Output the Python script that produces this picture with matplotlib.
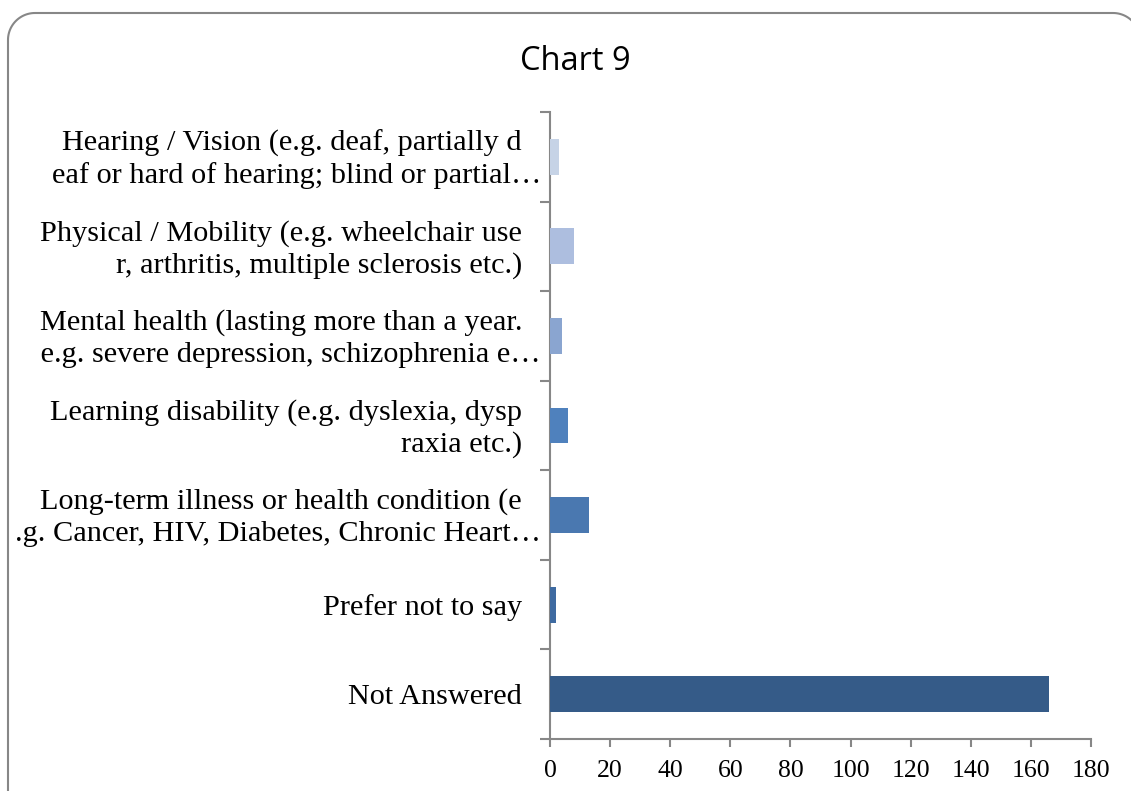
import matplotlib
matplotlib.use("Agg")
import matplotlib.pyplot as plt
import numpy as np
from matplotlib.transforms import offset_copy

categories = [
    "Hearing / Vision (e.g. deaf, partially d\neaf or hard of hearing; blind or partial\u2026",
    "Physical / Mobility (e.g. wheelchair use\nr, arthritis, multiple sclerosis etc.)",
    "Mental health (lasting more than a year.\n e.g. severe depression, schizophrenia e\u2026",
    "Learning disability (e.g. dyslexia, dysp\nraxia etc.)",
    "Long-term illness or health condition (e\n.g. Cancer, HIV, Diabetes, Chronic Heart\u2026",
    "Prefer not to say",
    "Not Answered",
]
values = [3, 8, 4, 6, 13, 2, 166]
colors = ["#c6d3e6", "#adbedf", "#8aa5d0", "#4f81bd", "#4a78b0", "#3e6aa1", "#355b88"]
xticks = [0, 20, 40, 60, 80, 100, 120, 140, 160, 180]

W, H = 1131, 791
fig = plt.figure(figsize=(W / 100, H / 100), dpi=100)
fig.patch.set_facecolor("white")

# background axes in pixel units for the rounded chart-area border
bg = fig.add_axes([0, 0, 1, 1])
bg.set_xlim(0, W)
bg.set_ylim(H, 0)
bg.axis("off")
bl, bt, br, r = 8, 13, 1140, 27
t1 = np.linspace(np.pi, 1.5 * np.pi, 30)
t2 = np.linspace(1.5 * np.pi, 2 * np.pi, 30)
bx = np.concatenate([[bl], bl + r + r * np.cos(t1), br - r + r * np.cos(t2), [br]])
by = np.concatenate([[H + 20], bt + r + r * np.sin(t1), bt + r + r * np.sin(t2), [H + 20]])
bg.plot(bx, by, color="#878787", lw=1.5, solid_capstyle="round", clip_on=False)

left, right, top, bottom = 550, 1091, 112, 739
ax = fig.add_axes([left / W, 1 - bottom / H, (right - left) / W, (bottom - top) / H])
ax.patch.set_alpha(0)

n = len(categories)
ypos = [n - 1 - i for i in range(n)]
ax.barh(ypos, values, height=0.4, color=colors, zorder=3)

ax.set_xlim(0, 180)
ax.set_ylim(-0.5, n - 0.5)
ax.set_xticks(xticks)
ax.set_xticklabels([str(t) for t in xticks], fontfamily="Liberation Serif", fontsize=18.5)
ax.set_yticks(ypos)
ax.set_yticklabels([])
ax.tick_params(axis="y", length=0)
ax.set_yticks([i - 0.5 for i in range(n + 1)], minor=True)
ax.tick_params(axis="y", which="minor", length=7, width=1.5, color="#878787")
ax.tick_params(axis="x", length=6, width=1.5, color="#878787", pad=9)

# category labels, line by line (right aligned, Excel-like)
ytr = ax.get_yaxis_transform()
line_h = 32
for label, y in zip(categories, ypos):
    lines = label.split("\n")
    k = len(lines)
    for i, line in enumerate(lines):
        dx = -9 if line.endswith("\u2026") else -28
        dy = -(10 + (i - (k - 1) / 2) * line_h)
        tr = offset_copy(ytr, fig=fig, x=dx, y=dy, units="dots")
        ax.text(0, y, line, transform=tr, ha="right", va="baseline",
                fontfamily="Liberation Serif", fontsize=21.8, clip_on=False)

for s in ["top", "right"]:
    ax.spines[s].set_visible(False)
for s in ["left", "bottom"]:
    ax.spines[s].set_color("#878787")
    ax.spines[s].set_linewidth(1.5)

fig.text(575 / W, 1 - 61 / H, "Chart 9", ha="center", va="center",
         fontsize=23.5, fontfamily="Open Sans")

fig.savefig("out.png", dpi=100)
